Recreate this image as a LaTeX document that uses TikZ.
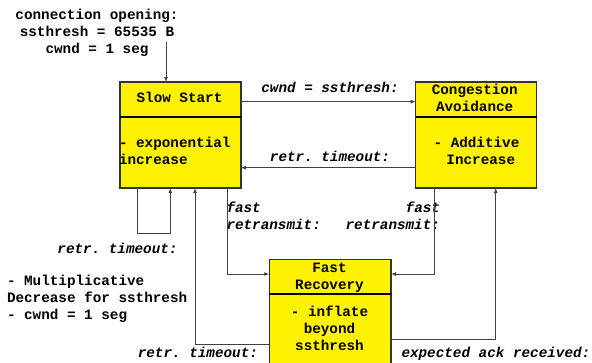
\documentclass[tikz,border=0pt]{standalone}
\usepackage{fontspec}
\setmainfont{Liberation Mono}
\usetikzlibrary{arrows.meta,calc}
\begin{document}
\frenchspacing
\begin{tikzpicture}[x=1pt,y=-1pt,
  state/.style={draw=black!80, line width=1.2pt, fill=yellow, minimum width=121pt, minimum height=106pt, inner sep=0pt, outer sep=0pt},
  divider/.style={draw=black, line width=1.8pt},
  txt/.style={font=\fontsize{14.3}{17}\selectfont\bfseries\frenchspacing, inner sep=0pt, outer sep=0pt},
  itxt/.style={font=\fontsize{14.3}{17}\selectfont\bfseries\itshape\frenchspacing, inner sep=0pt, outer sep=0pt},
  conn/.style={draw=black!75, line width=0.9pt},
  arr/.style={conn, -{Latex[length=5pt,width=4pt]}}]
\useasboundingbox (0,0) rectangle (592,362);
\clip (0,0) rectangle (592,362);
% states
\node[state] (ss) at (180.5,135) {};
\node[state] (ca) at (476.2,135) {};
\node[state, minimum width=121.7pt, minimum height=120pt] (fr) at (330.15,319.3) {};
% helper coordinates
\coordinate (d1) at (0,117);
\coordinate (d2) at (0,294.3);
\coordinate (init) at (166,42);
\coordinate (r1) at (0,101.7);
\coordinate (r2) at (0,167.7);
\coordinate (loopA) at (137.7,233.3);
\coordinate (loopB) at (170.3,233.3);
\coordinate (rtA) at (195,344.3);
\coordinate (frA) at (227.7,274);
\coordinate (frB) at (434.3,274);
\coordinate (eaB) at (495.7,339.3);
% dividers
\draw[divider] (ss.west |- d1) -- (ss.east |- d1);
\draw[divider] (ca.west |- d1) -- (ca.east |- d1);
\draw[divider] (fr.west |- d2) -- (fr.east |- d2);
% texts in states
\node[txt, anchor=base] (sst) at (179.5,102.7) {Slow Start};
\node[txt, anchor=base west] (ssb) at (119,147.7) {\begin{tabular}[t]{@{}l@{}}- exponential\\increase\end{tabular}};
\node[txt, anchor=base] (cat) at (474.7,94) {\begin{tabular}[t]{@{}c@{}}Congestion\\Avoidance\end{tabular}};
\node[txt, anchor=base] (cab) at (476.5,147.3) {\begin{tabular}[t]{@{}c@{}}- Additive\\~Increase\end{tabular}};
\node[txt, anchor=base] (frt) at (329.5,272.3) {\begin{tabular}[t]{@{}c@{}}Fast\\Recovery\end{tabular}};
\node[txt, anchor=base] (frb) at (329.5,316) {\begin{tabular}[t]{@{}c@{}}- inflate\\beyond\\ssthresh\end{tabular}};
% other texts
\node[txt, anchor=base] (open) at (97,19) {\begin{tabular}[t]{@{}c@{}}connection opening:\\ssthresh = 65535 B\\cwnd = 1 seg\end{tabular}};
\node[txt, anchor=base west] (md) at (7,285.7) {\begin{tabular}[t]{@{}l@{}}- Multiplicative\\Decrease for ssthresh\\- cwnd = 1 seg\end{tabular}};
\node[itxt, anchor=base] (l1) at (330,92.3) {cwnd = ssthresh:};
\node[itxt, anchor=base] (l2) at (330,161.7) {retr. timeout:};
\node[itxt, anchor=base west] (l3) at (226.5,212.7) {\begin{tabular}[t]{@{}l@{}}fast\\retransmit:\end{tabular}};
\node[itxt, anchor=base east] (l4) at (440,212.7) {\begin{tabular}[t]{@{}r@{}}fast~\\retransmit:\end{tabular}};
\node[itxt, anchor=base] (l5) at (117.5,253.3) {retr. timeout:};
\node[itxt, anchor=base] (l6) at (197.9,357.7) {retr. timeout:};
\node[itxt, anchor=base] (l7) at (495.9,357.7) {expected ack received:};
% connectors
\draw[arr] (init) -- (init |- ss.north);
\draw[arr] (ss.east |- r1) -- (ca.west |- r1);
\draw[arr] (ca.west |- r2) -- (ss.east |- r2);
\draw[arr] (ss.south -| loopA) -- (loopA) -- (loopB) -- (loopB |- ss.south);
\draw[arr] (fr.west |- rtA) -- (rtA) -- (rtA |- ss.south);
\draw[arr] (ss.south -| frA) -- (frA) -- (fr.west |- frA);
\draw[arr] (ca.south -| frB) -- (frB) -- (fr.east |- frB);
\draw[arr] (fr.east |- eaB) -- (eaB) -- (eaB |- ca.south);
\end{tikzpicture}
\end{document}
